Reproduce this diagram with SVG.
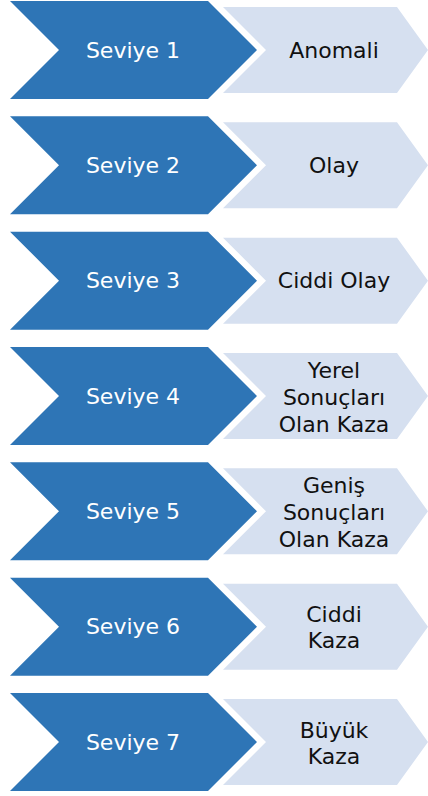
<svg xmlns="http://www.w3.org/2000/svg" width="428" height="796" viewBox="0 0 428 796">
<style>
.d{fill:#2E75B6}
.l{fill:#D6E0F0}
.t{font-family:"DejaVu Sans","Liberation Sans",sans-serif;font-size:22px;text-anchor:middle}
.w{fill:#FFFFFF}
.k{fill:#111111}
</style>
<defs>
<path id="dk" d="M10,-49 L208,-49 L257,0 L208,49 L10,49 L59,0 Z"/>
<path id="lt" d="M223,-43 L397,-43 L428,0 L397,43 L223,43 L266,0 Z"/>
</defs>
<g id="row1" transform="translate(0,50)">
<use href="#dk" class="d"/><use href="#lt" class="l"/>
<text class="t w" x="133" y="7.5">Seviye 1</text>
<text class="t k" x="334" y="7.5">Anomali</text>
</g>
<g id="row2" transform="translate(0,165.33)">
<use href="#dk" class="d"/><use href="#lt" class="l"/>
<text class="t w" x="133" y="7.5">Seviye 2</text>
<text class="t k" x="334" y="7.5">Olay</text>
</g>
<g id="row3" transform="translate(0,280.67)">
<use href="#dk" class="d"/><use href="#lt" class="l"/>
<text class="t w" x="133" y="7.5">Seviye 3</text>
<text class="t k" x="334" y="7.5">Ciddi Olay</text>
</g>
<g id="row4" transform="translate(0,396)">
<use href="#dk" class="d"/><use href="#lt" class="l"/>
<text class="t w" x="133" y="7.5">Seviye 4</text>
<text class="t k" x="334" y="-18.5">Yerel</text>
<text class="t k" x="334" y="8.5">Sonuçları</text>
<text class="t k" x="334" y="35.5">Olan Kaza</text>
</g>
<g id="row5" transform="translate(0,511.33)">
<use href="#dk" class="d"/><use href="#lt" class="l"/>
<text class="t w" x="133" y="7.5">Seviye 5</text>
<text class="t k" x="334" y="-18.5">Geniş</text>
<text class="t k" x="334" y="8.5">Sonuçları</text>
<text class="t k" x="334" y="35.5">Olan Kaza</text>
</g>
<g id="row6" transform="translate(0,626.67)">
<use href="#dk" class="d"/><use href="#lt" class="l"/>
<text class="t w" x="133" y="7.5">Seviye 6</text>
<text class="t k" x="334" y="-4.5">Ciddi</text>
<text class="t k" x="334" y="21.5">Kaza</text>
</g>
<g id="row7" transform="translate(0,742)">
<use href="#dk" class="d"/><use href="#lt" class="l"/>
<text class="t w" x="133" y="7.5">Seviye 7</text>
<text class="t k" x="334" y="-4.5">Büyük</text>
<text class="t k" x="334" y="21.5">Kaza</text>
</g>
</svg>
